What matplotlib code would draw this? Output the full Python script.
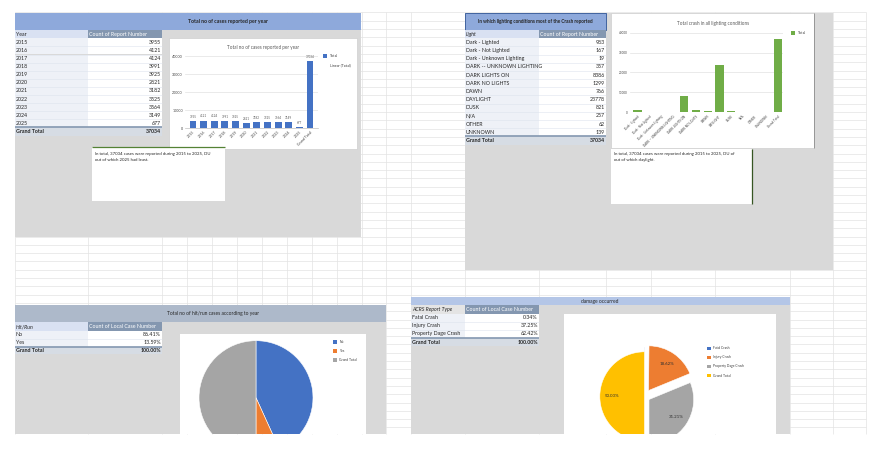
import matplotlib
matplotlib.use('Agg')
import matplotlib.pyplot as plt
from matplotlib.patches import Rectangle

W, H = 879, 454
plt.rcParams['font.family'] = ['Lato', 'DejaVu Sans']

# ---------------- data ----------------
years = ['2015', '2016', '2017', '2018', '2019', '2020', '2021', '2022', '2023', '2024', '2025']
year_counts = [3955, 4121, 4124, 3991, 3925, 2821, 3182, 3525, 3564, 3149, 677]
year_total = 37034

light_conditions = ['Dark - Lighted', 'Dark - Not Lighted', 'Dark - Unknown Lighting',
                    'DARK -- UNKNOWN LIGHTING', 'DARK LIGHTS ON', 'DARK NO LIGHTS', 'DAWN',
                    'DAYLIGHT', 'DUSK', 'N/A', 'OTHER', 'UNKNOWN']
light_counts = [983, 167, 19, 357, 8386, 1299, 766, 23778, 821, 257, 62, 139]
light_total = 37034

hitrun_labels = ['No', 'Yes']
hitrun_pct = [86.41, 13.59]
hitrun_total = 100.00

acrs_types = ['Fatal Crash', 'Injury Crash', 'Property Dage Crash']
acrs_pct = [0.34, 37.25, 62.42]
acrs_total = 100.00

y_ticks = [0, 10000, 20000, 30000, 40000]

# ---------------- figure ----------------
fig = plt.figure(figsize=(W / 100, H / 100), dpi=100)
bg = fig.add_axes([0, 0, 1, 1])
bg.set_xlim(0, W)
bg.set_ylim(H, 0)
bg.axis('off')


def ax_px(x0, y0, x1, y1):
    return fig.add_axes([x0 / W, 1 - y1 / H, (x1 - x0) / W, (y1 - y0) / H])


def rect(x0, y0, x1, y1, fc, ec='none', lw=0.0, z=1):
    bg.add_patch(Rectangle((x0, y0), x1 - x0, y1 - y0, facecolor=fc, edgecolor=ec, linewidth=lw, zorder=z))


def txt(x, y, s, size=3.8, ha='left', color='#262626', weight='normal', style='normal', z=5):
    bg.text(x, y, s, fontsize=size, ha=ha, va='center', color=color, fontweight=weight,
            fontstyle=style, zorder=z)


# sheet grid
GRID = '#e3e3e3'
cols = [14.7, 88, 162, 187, 212, 237, 262, 287, 312, 337, 362, 386, 411, 465, 539, 606, 651, 715, 790, 833, 866]
rows = []
yy = 12.4
while yy < 435:
    rows.append(yy)
    yy += 8.3
bg.hlines(rows, 14.7, 866, color=GRID, lw=0.5, zorder=0)
bg.vlines(cols, 12.4, 434, color=GRID, lw=0.5, zorder=0)

PANEL = '#D9D9D9'


def table(x0, xm, x1, yh, hh, rh, head_l, head_r, labels, values, tot_label, tot_val,
          italic=False, head_l_fc='#D9E1F2'):
    rect(x0, yh, xm, yh + hh, head_l_fc, z=2)
    rect(xm, yh, x1, yh + hh, '#8497B0', z=2)
    txt(x0 + 1, yh + hh / 2, head_l, style='italic' if italic else 'normal')
    txt(xm + 1, yh + hh / 2, head_r, color='white')
    y = yh + hh
    for lab, val in zip(labels, values):
        rect(x0, y, xm, y + rh, '#EEF1F7', z=2)
        rect(xm, y, x1, y + rh, 'white', z=2)
        bg.hlines(y + rh, x0, x1, color='#dde3ee', lw=0.4, zorder=3)
        txt(x0 + 1, y + rh / 2, lab)
        txt(x1 - 1, y + rh / 2, val, ha='right')
        y += rh
    rect(x0, y, x1, y + rh, '#D6DCE4', z=2)
    bg.hlines(y, x0, x1, color='#8497B0', lw=1.2, zorder=3)
    txt(x0 + 1, y + rh / 2 + 0.3, tot_label, weight='bold')
    txt(x1 - 1, y + rh / 2 + 0.3, tot_val, ha='right', weight='bold')


# ---------------- panel 1 : cases per year ----------------
rect(14.7, 13, 361, 237, PANEL)
rect(14.7, 13, 361, 30, '#8EA9DB')
txt(188, 21.5, 'Total no of cases reported per year', size=3.7, weight='bold')
table(14.7, 88, 162, 30, 8.3, 8.1, 'Year', 'Count of Report Number', years,
      [str(v) for v in year_counts], 'Grand Total', str(year_total))

rect(169, 38, 357, 149, 'white', ec='#cfcfcf', lw=0.5, z=2)
txt(263, 47, 'Total no of cases reported per year', size=3.3, ha='center', color='#595959')

ax1 = ax_px(185, 56, 318, 128)
ax1.set_facecolor('none')
cats1 = years + ['Grand Total']
vals1 = year_counts + [year_total]
b1 = ax1.bar(range(len(cats1)), vals1, width=0.65, color='#4472C4', zorder=3)
ax1.bar_label(b1, fontsize=2.2, padding=1.5, color='#595959')
ax1.set_xlim(-0.75, len(cats1) - 0.25)
ax1.set_ylim(0, 40000)
ax1.set_yticks(y_ticks)
ax1.set_xticks(range(len(cats1)), cats1, rotation=45, ha='right', rotation_mode='anchor')
ax1.tick_params(length=0, labelsize=2.6, colors='#404040', pad=1.5)
ax1.grid(axis='y', color='#e2e2e2', lw=0.5, zorder=0)
for s in ['top', 'right', 'left']:
    ax1.spines[s].set_visible(False)
ax1.spines['bottom'].set_color('#bfbfbf')
ax1.spines['bottom'].set_linewidth(0.5)

rect(323.5, 54.3, 327, 57.8, '#4472C4', z=3)
txt(330, 56, 'Total', size=2.6, color='#404040')
txt(330, 65, 'Linear (Total)', size=2.6, color='#404040')

rect(92, 147, 225, 201, 'white', z=3)
bg.hlines(147, 92, 225, color='#548235', lw=0.9, zorder=4)
txt(95, 153.5, 'In total, 37034 cases were reported during 2015 to 2025, DU', size=3.1, z=6)
txt(95, 160, 'out of which 2025 had least.', size=3.1, z=6)

# ---------------- panel 2 : lighting conditions ----------------
rect(465, 13, 833, 270, PANEL)
rect(465, 13, 606, 30, '#8EA9DB', ec='#2F5597', lw=0.6, z=2)
txt(535.5, 21.5, 'In which lighting conditions most of the Crash reported', size=3.45,
    ha='center', weight='bold')
table(465, 539, 606, 30, 8.3, 8.17, 'Light', 'Count of Report Number', light_conditions,
      [str(v) for v in light_counts], 'Grand Total', str(light_total), italic=True)

rect(611, 13, 814, 148, 'white', ec='#cfcfcf', lw=0.5, z=2)
bg.vlines(814, 13, 148, color='#8c8c8c', lw=0.6, zorder=3)
txt(713, 23, 'Total crash in all lighting conditions', size=3.3, ha='center', color='#595959')

ax2 = ax_px(630, 32.7, 783, 112.3)
ax2.set_facecolor('none')
cats2 = light_conditions + ['Grand Total']
vals2 = light_counts + [light_total]
ax2.bar(range(len(cats2)), vals2, width=0.71, color='#70AD47', zorder=3)
ax2.set_xlim(-0.64, len(cats2) - 0.56)
ax2.set_ylim(0, 40000)
ax2.set_yticks(y_ticks)
ax2.set_xticks(range(len(cats2)), cats2, rotation=45, ha='right', rotation_mode='anchor')
ax2.tick_params(length=0, labelsize=2.2, colors='#404040', pad=1.5)
ax2.grid(axis='y', color='#e2e2e2', lw=0.5, zorder=0)
for s in ['top', 'right', 'left', 'bottom']:
    ax2.spines[s].set_visible(False)

rect(791.5, 31.3, 795, 34.8, '#70AD47', z=3)
txt(798, 33, 'Total', size=2.6, color='#404040')

rect(611, 149, 752, 204, 'white', z=3)
bg.vlines(752, 149, 204, color='#375623', lw=0.9, zorder=4)
txt(614, 153.5, 'In total, 37034 cases were reported during 2015 to 2025, DU of', size=3.1, z=6)
txt(614, 160, 'out of which daylight.', size=3.1, z=6)

# ---------------- panel 3 : hit / run ----------------
rect(14.7, 305, 386, 434, PANEL)
rect(14.7, 305, 386, 322, '#ADB9CA')
txt(213, 313.5, 'Total no of hit/run cases according to year', size=3.5, ha='center')
table(14.7, 88, 162, 322.3, 8.5, 7.9, 'Hit/Run', 'Count of Local Case Number', hitrun_labels,
      [f'{v:.2f}%' for v in hitrun_pct], 'Grand Total', f'{hitrun_total:.2f}%', italic=True)

rect(180, 334, 366, 434, 'white', z=2)
ax3 = ax_px(180, 334, 366, 434)
ax3.pie(hitrun_pct + [hitrun_total], colors=['#4472C4', '#ED7D31', '#A5A5A5'],
        startangle=90, counterclock=False, radius=57, center=(256, H - 397.7),
        wedgeprops=dict(linewidth=0.4, edgecolor='white', clip_on=True))
ax3.set_xlim(180, 366)
ax3.set_ylim(H - 434, H - 334)
ax3.set_aspect('auto')
ax3.axis('off')
for w in ax3.patches:
    w.set_clip_on(True)
    w.set_clip_path(ax3.patch)
for i, (lab, c) in enumerate(zip(hitrun_labels + ['Grand Total'], ['#4472C4', '#ED7D31', '#A5A5A5'])):
    yc = 342 + i * 9
    rect(333.5, yc - 1.7, 336.8, yc + 1.7, c, z=3)
    txt(339.5, yc, lab, size=2.4, color='#404040')

# ---------------- panel 4 : damage occurred ----------------
rect(411, 297, 790, 434, PANEL)
rect(411, 297, 790, 305, '#B4C6E7')
txt(600, 301, 'damage occurred', size=3.5, ha='center')
table(411, 465, 539, 305, 8.6, 8.1, 'ACRS Report Type', 'Count of Local Case Number', acrs_types,
      [f'{v:.2f}%' for v in acrs_pct], 'Grand Total', f'{acrs_total:.2f}%', italic=True,
      head_l_fc='#E4E4E4')

rect(564, 314, 776, 434, 'white', z=2)
ax4 = ax_px(564, 314, 776, 434)
pie_cols = ['#4472C4', '#ED7D31', '#A5A5A5', '#FFC000']
ax4.pie(acrs_pct + [acrs_total], colors=pie_cols, startangle=90, counterclock=False,
        radius=44.7, center=(644.5, H - 396.5), explode=[4.5, 7.2, 5.4, 0.0],
        autopct=lambda p: f'{p:.2f}%' if p > 1 else '', pctdistance=0.72,
        textprops=dict(fontsize=3.2, color='#303030'),
        wedgeprops=dict(linewidth=0.4, edgecolor='white', clip_on=True))
ax4.set_xlim(564, 776)
ax4.set_ylim(H - 434, H - 314)
ax4.set_aspect('auto')
ax4.axis('off')
for w in ax4.patches:
    w.set_clip_on(True)
    w.set_clip_path(ax4.patch)
for i, (lab, c) in enumerate(zip(acrs_types + ['Grand Total'], pie_cols)):
    yc = 348.3 + i * 9.1
    rect(707.5, yc - 1.7, 710.8, yc + 1.7, c, z=3)
    txt(713, yc, lab, size=2.4, color='#404040')

fig.savefig('out.png', dpi=100)
